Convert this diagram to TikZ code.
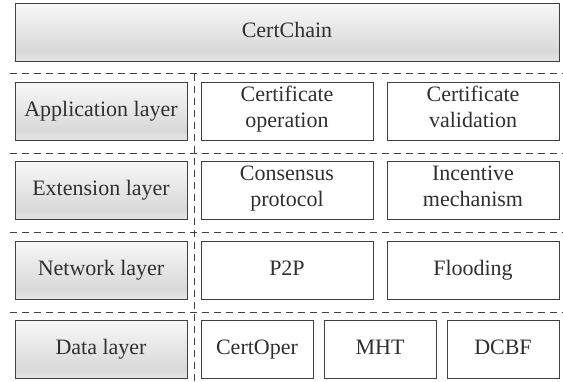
\documentclass[tikz,border=0pt]{standalone}
\usepackage{fontspec}
\setmainfont{Liberation Serif}
\usepackage{tikz}
\usetikzlibrary{calc}
\definecolor{edgegray}{HTML}{404040}
\definecolor{textgray}{HTML}{303030}
\pgfdeclareverticalshading{layershade}{100bp}{color(0bp)=(gray!20); color(25bp)=(gray!20); color(33bp)=(gray!30); color(75bp)=(gray!6); color(100bp)=(gray!6)}
\tikzset{
  boxfont/.style={font=\rmfamily\fontsize{22}{26}\selectfont, text=textgray, align=center,
    execute at begin node=\strut, execute at end node=\strut},
  layerbox/.style={draw=edgegray, line width=1pt, shading=layershade, inner sep=0pt, outer sep=0pt,
    minimum width=172pt, minimum height=58pt, boxfont},
  unitbox/.style={draw=edgegray, line width=1pt, fill=white, inner sep=0pt, outer sep=0pt,
    minimum width=172pt, minimum height=58pt, boxfont},
  sepline/.style={draw=edgegray, line width=0.9pt, dash pattern=on 7pt off 5pt}
}

\begin{document}
\begin{tikzpicture}[x=1pt, y=-1pt]
        \useasboundingbox (0,0) rectangle (563,381);
        % top
        \node[layerbox, minimum width=544pt] (certchain) at (287,32) {CertChain};
        % separators
        \draw[sepline] (10,73.5) -- (563,73.5);
        \draw[sepline] (10,153) -- (563,153);
        \draw[sepline] (10,232.5) -- (563,232.5);
        \draw[sepline] (10,312) -- (563,312);
        \draw[sepline] (194,73.5) -- (194,381);
        % row 1
        \node[layerbox] (app) at (101,111) {Application layer};
        \node[unitbox] (appop) at (287,111) {Certificate\\operation};
        \node[unitbox] (appval) at (473,111) {Certificate\\validation};
        % row 2
        \node[layerbox] (ext) at (101,190.5) {Extension layer};
        \node[unitbox] (extcons) at (287,190.5) {Consensus\\protocol};
        \node[unitbox] (extinc) at (473,190.5) {Incentive\\mechanism};
        % row 3
        \node[layerbox] (net) at (101,270) {Network layer};
        \node[unitbox] (netp2p) at (287,270) {P2P};
        \node[unitbox] (netflood) at (473,270) {Flooding};
        % row 4
        \node[layerbox] (data) at (101,349.5) {Data layer};
        \node[unitbox, minimum width=112pt] (dataoper) at (257,349.5) {CertOper};
        \node[unitbox, minimum width=112pt] (datamht) at (380,349.5) {MHT};
        \node[unitbox, minimum width=112pt] (datadcbf) at (503,349.5) {DCBF};
\end{tikzpicture}
\end{document}
